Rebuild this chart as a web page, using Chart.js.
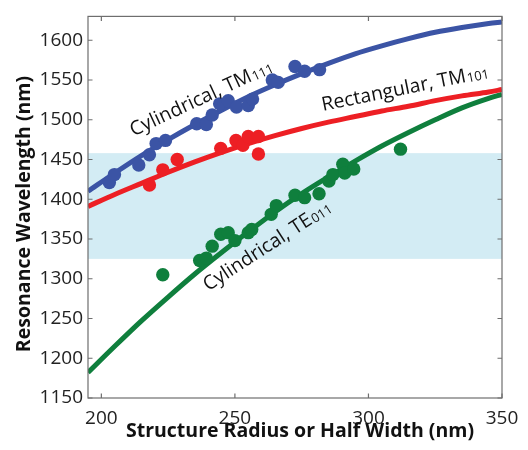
<!DOCTYPE html>
<html>
<head>
<meta charset="utf-8">
<script src="https://cdn.jsdelivr.net/npm/chart.js@4/dist/chart.umd.min.js"></script>
<style>
  html, body { margin: 0; padding: 0; background: #fff; }
  canvas { display: block; }
</style>
</head>
<body>
<canvas id="c" width="528" height="450"></canvas>
<script>
// Measured resonances: cylindrical TM111
const tm111X = [203.0, 204.9, 214.0, 218.0, 220.5, 224.0, 235.7, 239.3, 241.5, 244.3, 247.5, 250.6, 255.0, 256.6, 264.0, 266.2, 272.5, 276.1, 281.7];
const tm111Y = [1421, 1431, 1443, 1456, 1470, 1474, 1495, 1494, 1506, 1520, 1524, 1516, 1518, 1526, 1550, 1547, 1567, 1561, 1563];

// Measured resonances: rectangular TM101
const tm101X = [218.0, 223.0, 228.4, 244.7, 250.4, 253.0, 255.0, 258.8, 258.8];
const tm101Y = [1418, 1437, 1450, 1464, 1474, 1468, 1479, 1479, 1457];

// Measured resonances: cylindrical TE011
const te011X = [223.0, 236.8, 239.3, 241.5, 244.7, 247.5, 250.0, 255.0, 256.3, 263.6, 265.5, 272.5, 276.1, 281.5, 285.2, 286.7, 290.4, 291.1, 294.5, 312.0];
const te011Y = [1305, 1323, 1326, 1341, 1356, 1358, 1348, 1358, 1362, 1381, 1392, 1405, 1402, 1407, 1423, 1431, 1444, 1433, 1438, 1463];

// Simulated curves, sampled along the radius / half width
const curveX = [195, 205, 215, 225, 235, 245, 255, 265, 275, 285, 295, 305, 315, 325, 335, 345, 350];
const tm111Curve = [1410, 1433, 1455, 1475, 1494, 1512, 1529, 1544, 1558, 1571, 1583, 1593, 1602, 1610, 1616, 1621, 1623];
const tm101Curve = [1391, 1406, 1420, 1434, 1447, 1459, 1470, 1480, 1489, 1497, 1504, 1511, 1517, 1524, 1530, 1535, 1538];
const te011Curve = [1182, 1215, 1247, 1277, 1306, 1333, 1359, 1384, 1407, 1428, 1448, 1467, 1484, 1500, 1515, 1527, 1532];

// Shaded wavelength window
const bandRange = [1325, 1458];

// Tick labels
const xTicks = [200, 250, 300, 350];
const yTicks = [1150, 1200, 1250, 1300, 1350, 1400, 1450, 1500, 1550, 1600];

const BLUE = '#3b54a5';
const RED = '#ed1f24';
const GREEN = '#0f7f3d';
const FONT = "'Open Sans', 'Liberation Sans', sans-serif";

const zip = (xs, ys) => xs.map((x, i) => ({ x: x, y: ys[i] }));

function curveSet(ys, color) {
  return {
    data: zip(curveX, ys), showLine: true, borderColor: color, borderWidth: 5,
    pointRadius: 0, fill: false, tension: 0.4, cubicInterpolationMode: 'monotone', order: 2
  };
}
function dotSet(xs, ys, color) {
  return {
    data: zip(xs, ys), showLine: false, backgroundColor: color, borderWidth: 0,
    pointRadius: 6.7, pointHoverRadius: 6.7, order: 1
  };
}

// Shaded band, frame with inward ticks, curve labels and axis titles
const decor = {
  id: 'decor',
  beforeDatasetsDraw(chart) {
    const { ctx, chartArea: a, scales: { y } } = chart;
    const top = y.getPixelForValue(bandRange[1]);
    const bot = y.getPixelForValue(bandRange[0]);
    ctx.save();
    ctx.fillStyle = '#d3ecf4';
    ctx.fillRect(a.left, top, a.right - a.left, bot - top);
    ctx.restore();
  },
  afterDatasetsDraw(chart) {
    const { ctx, chartArea: a, scales: { x, y } } = chart;
    ctx.save();
    // frame
    ctx.strokeStyle = '#6e6e6e';
    ctx.lineWidth = 1.2;
    ctx.strokeRect(a.left, a.top, a.right - a.left, a.bottom - a.top);
    // inward ticks
    ctx.beginPath();
    const tl = 4.5;
    xTicks.forEach(v => {
      const px = x.getPixelForValue(v);
      ctx.moveTo(px, a.bottom); ctx.lineTo(px, a.bottom - tl);
      ctx.moveTo(px, a.top); ctx.lineTo(px, a.top + tl);
    });
    yTicks.forEach(v => {
      const py = y.getPixelForValue(v);
      ctx.moveTo(a.left, py); ctx.lineTo(a.left + tl, py);
      ctx.moveTo(a.right, py); ctx.lineTo(a.right - tl, py);
    });
    ctx.stroke();

    // curve labels
    function label(main, sub, xv, yv, deg) {
      ctx.save();
      ctx.translate(x.getPixelForValue(xv), y.getPixelForValue(yv));
      ctx.rotate(-deg * Math.PI / 180);
      ctx.fillStyle = '#111';
      ctx.textBaseline = 'alphabetic';
      ctx.textAlign = 'left';
      ctx.font = '19.5px ' + FONT;
      ctx.fillText(main, 0, 0);
      const w = ctx.measureText(main).width;
      ctx.font = '13px ' + FONT;
      ctx.fillText(sub, w + 1, 1);
      ctx.restore();
    }
    label('Cylindrical, TM', '111', 212.0, 1479, 25);
    label('Rectangular, TM', '101', 283.0, 1511, 11.5);
    label('Cylindrical, TE', '011', 240.0, 1284, 33);

    // axis titles
    ctx.fillStyle = '#111';
    ctx.font = 'bold 19.5px ' + FONT;
    ctx.textAlign = 'center';
    ctx.textBaseline = 'middle';
    ctx.fillText('Structure Radius or Half Width (nm)', 300, 431);
    ctx.save();
    ctx.translate(24, 214);
    ctx.rotate(-Math.PI / 2);
    ctx.fillText('Resonance Wavelength (nm)', 0, 0);
    ctx.restore();
    ctx.restore();
  }
};

new Chart(document.getElementById('c'), {
  type: 'scatter',
  data: {
    datasets: [
      curveSet(tm111Curve, BLUE),
      curveSet(tm101Curve, RED),
      curveSet(te011Curve, GREEN),
      dotSet(tm111X, tm111Y, BLUE),
      dotSet(tm101X, tm101Y, RED),
      dotSet(te011X, te011Y, GREEN)
    ]
  },
  options: {
    responsive: false,
    animation: false,
    events: [],
    layout: { padding: { top: 12, right: 26, left: 0, bottom: 0 } },
    plugins: { legend: { display: false }, tooltip: { enabled: false } },
    scales: {
      x: {
        type: 'linear', min: 195, max: 350,
        afterBuildTicks: s => { s.ticks = xTicks.map(v => ({ value: v })); },
        afterFit: s => { s.height = 52; },
        grid: { display: false, drawTicks: false },
        border: { display: false },
        ticks: { color: '#222', font: { family: FONT, size: 19 }, padding: 9, maxRotation: 0,
                 callback: v => String(v) }
      },
      y: {
        type: 'linear', min: 1150, max: 1630,
        afterBuildTicks: s => { s.ticks = yTicks.map(v => ({ value: v })); },
        afterFit: s => { s.width = 88; },
        grid: { display: false, drawTicks: false },
        border: { display: false },
        ticks: { color: '#222', font: { family: FONT, size: 19 }, padding: 5,
                 callback: v => String(v) }
      }
    }
  },
  plugins: [decor]
});
</script>
</body>
</html>
